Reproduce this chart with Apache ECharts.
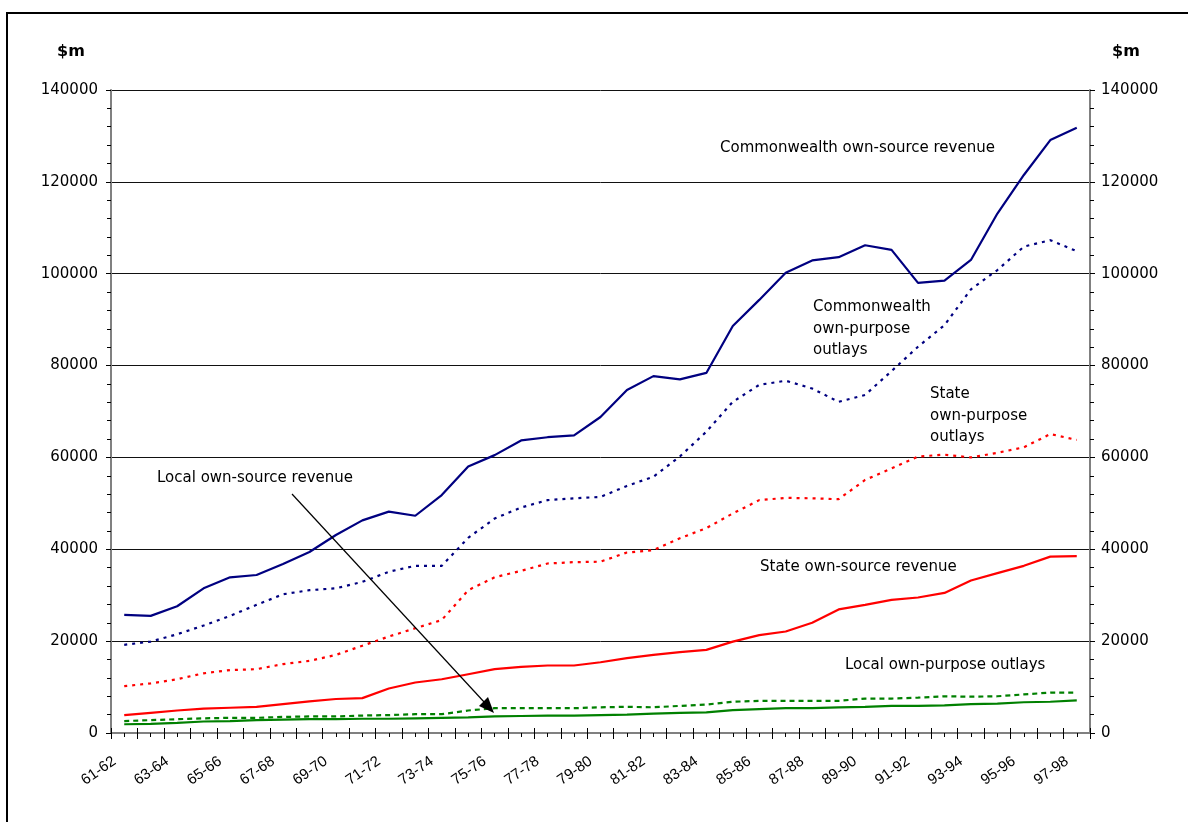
<!DOCTYPE html>
<html>
<head>
<meta charset="utf-8">
<script src="https://cdn.jsdelivr.net/npm/echarts@6/dist/echarts.min.js"></script>
<style>
  html, body { margin: 0; padding: 0; background: #fff; }
  #chart { width: 1188px; height: 822px; }
</style>
</head>
<body>
<div id="chart"></div>
<script>
// Financial years shown along the horizontal axis
const years = ['61-62','62-63','63-64','64-65','65-66','66-67','67-68','68-69','69-70','70-71',
  '71-72','72-73','73-74','74-75','75-76','76-77','77-78','78-79','79-80','80-81',
  '81-82','82-83','83-84','84-85','85-86','86-87','87-88','88-89','89-90','90-91',
  '91-92','92-93','93-94','94-95','95-96','96-97','97-98'];

// $m values per year
const cwRevenue = [25700, 25500, 27600, 31500, 33900, 34400, 36800, 39400, 43100, 46300,
  48200, 47300, 51800, 58000, 60500, 63700, 64400, 64800, 68800, 74700,
  77700, 77000, 78400, 88600, 94300, 100200, 102900, 103600, 106200, 105200,
  98000, 98500, 103000, 113100, 121500, 129100, 131800];
const cwOutlays = [19200, 19900, 21500, 23400, 25500, 27900, 30200, 31100, 31500, 32900,
  35100, 36400, 36400, 42500, 46700, 49100, 50700, 51100, 51400, 53800,
  55800, 60200, 65600, 72100, 75800, 76700, 75000, 72100, 73600, 78800,
  84100, 88800, 96600, 100800, 105900, 107300, 104900];
const stateOutlays = [10200, 10800, 11700, 13000, 13700, 13900, 15000, 15700, 17000, 19000,
  21000, 22800, 24600, 31100, 33900, 35300, 36900, 37200, 37300, 39300,
  39800, 42400, 44600, 47800, 50700, 51200, 51100, 50900, 55100, 57600,
  60200, 60600, 60000, 61000, 62200, 65100, 63800];
const stateRevenue = [3900, 4400, 4900, 5300, 5500, 5700, 6300, 6900, 7400, 7600,
  9700, 11000, 11700, 12800, 13900, 14400, 14700, 14700, 15400, 16300,
  17000, 17600, 18100, 19900, 21300, 22100, 24000, 26900, 27900, 29000,
  29500, 30500, 33200, 34800, 36400, 38400, 38500];
const localOutlays = [2600, 2800, 3000, 3200, 3300, 3300, 3500, 3600, 3600, 3800,
  3900, 4100, 4100, 4900, 5400, 5400, 5400, 5400, 5600, 5700,
  5600, 5900, 6200, 6800, 7000, 7000, 7000, 7000, 7500, 7500,
  7700, 8000, 7900, 8000, 8400, 8800, 8800];
const localRevenue = [1900, 2000, 2200, 2500, 2600, 2800, 2900, 3000, 3000, 3100,
  3100, 3200, 3300, 3400, 3600, 3700, 3800, 3800, 3900, 4000,
  4200, 4400, 4500, 5000, 5200, 5400, 5400, 5600, 5700, 5900,
  5900, 6000, 6300, 6400, 6700, 6800, 7100];

const NAVY = '#000080', RED = '#ff0000', GREEN = '#008000';
const FONT = '"DejaVu Sans", sans-serif';
const AXIS_GREY = '#808080';

const chart = echarts.init(document.getElementById('chart'), null, { renderer: 'canvas' });

function valueAxis(pos, withGrid) {
  return {
    type: 'value', position: pos, min: 0, max: 140000, interval: 20000,
    axisLine: { show: true, lineStyle: { color: AXIS_GREY, width: 2 } },
    axisTick: { show: true, length: 5, lineStyle: { color: '#000', width: 1 } },
    minorTick: { show: true, splitNumber: 5, length: 4, lineStyle: { color: '#000', width: 1 } },
    splitLine: { show: withGrid, lineStyle: { color: '#111', width: 1 } },
    axisLabel: {
      color: '#000', fontSize: 15, fontFamily: FONT, margin: pos === 'left' ? 13 : 11,
      formatter: v => String(v)
    }
  };
}

function lineSeries(name, data, color, dash) {
  return {
    name, type: 'line', data, xAxisIndex: 0, yAxisIndex: 0,
    symbol: 'none', smooth: false, animation: false,
    lineStyle: { color, width: 2.2, type: dash || 'solid' }
  };
}

const option = {
  animation: false,
  backgroundColor: '#fff',
  grid: { left: 111, right: 98, top: 90, bottom: 89, containLabel: false },
  xAxis: [
    {
      type: 'category', data: years, boundaryGap: true, position: 'bottom',
      axisLine: { show: true, lineStyle: { color: AXIS_GREY, width: 2 } },
      axisTick: { show: true, interval: 0, length: 6, lineStyle: { color: '#000', width: 1 } },
      axisLabel: {
        interval: 1, rotate: 35, color: '#000', fontSize: 15,
        fontFamily: '"Liberation Sans", Arial, sans-serif',
        margin: 20, padding: [0, 12, 0, 0]
      },
      splitLine: { show: false }
    },
    {
      // short ticks at the centre of every year
      type: 'category', data: years, boundaryGap: true, position: 'bottom',
      axisLine: { show: false },
      axisTick: { show: true, interval: 0, alignWithLabel: true, length: 4, lineStyle: { color: '#000', width: 1 } },
      axisLabel: { show: false }, splitLine: { show: false }
    },
    {
      // upper half of the boundary ticks, crossing the axis line
      type: 'category', data: years, boundaryGap: true, position: 'bottom',
      axisLine: { show: false },
      axisTick: { show: true, interval: 0, inside: true, length: 5, lineStyle: { color: '#000', width: 1 } },
      axisLabel: { show: false }, splitLine: { show: false }
    }
  ],
  yAxis: [valueAxis('left', true), valueAxis('right', false)],
  series: [
    lineSeries('Commonwealth own-source revenue', cwRevenue, NAVY),
    lineSeries('Commonwealth own-purpose outlays', cwOutlays, NAVY, [3, 5]),
    lineSeries('State own-purpose outlays', stateOutlays, RED, [3, 5]),
    lineSeries('State own-source revenue', stateRevenue, RED),
    lineSeries('Local own-purpose outlays', localOutlays, GREEN, [5, 4]),
    lineSeries('Local own-source revenue', localRevenue, GREEN)
  ],
  graphic: [
    // outer frame of the chart
    { type: 'rect', shape: { x: 7, y: 13, width: 1300, height: 900 }, style: { fill: 'none', stroke: '#000', lineWidth: 2 }, silent: true, z: 0 },
    // unit captions
    { type: 'text', x: 71, y: 52, style: { text: '$m', font: 'bold 16px ' + FONT, fill: '#000', align: 'center', verticalAlign: 'middle' } },
    { type: 'text', x: 1126, y: 52, style: { text: '$m', font: 'bold 16px ' + FONT, fill: '#000', align: 'center', verticalAlign: 'middle' } },
    // series captions
    { type: 'text', x: 720, y: 148, style: { text: 'Commonwealth own-source revenue', font: '15px ' + FONT, fill: '#000', align: 'left', verticalAlign: 'middle' } },
    { type: 'text', x: 813, y: 329, style: { text: 'Commonwealth\nown-purpose\noutlays', font: '15px ' + FONT, lineHeight: 21.5, fill: '#000', align: 'left', verticalAlign: 'middle' } },
    { type: 'text', x: 930, y: 416, style: { text: 'State\nown-purpose\noutlays', font: '15px ' + FONT, lineHeight: 21.5, fill: '#000', align: 'left', verticalAlign: 'middle' } },
    { type: 'text', x: 760, y: 567, style: { text: 'State own-source revenue', font: '15px ' + FONT, fill: '#000', align: 'left', verticalAlign: 'middle' } },
    { type: 'text', x: 845, y: 665, style: { text: 'Local own-purpose outlays', font: '15px ' + FONT, fill: '#000', align: 'left', verticalAlign: 'middle' } },
    { type: 'text', x: 157, y: 478, style: { text: 'Local own-source revenue', font: '15px ' + FONT, fill: '#000', align: 'left', verticalAlign: 'middle' } },
    // pointer from the local revenue caption to its line
    { type: 'line', shape: { x1: 292, y1: 494, x2: 485, y2: 703 }, style: { stroke: '#000', lineWidth: 1.2 }, z: 10 },
    { type: 'polygon', shape: { points: [[494, 713], [479, 706], [488, 697]] }, style: { fill: '#000' }, z: 10 }
  ]
};

chart.setOption(option);
</script>
</body>
</html>
